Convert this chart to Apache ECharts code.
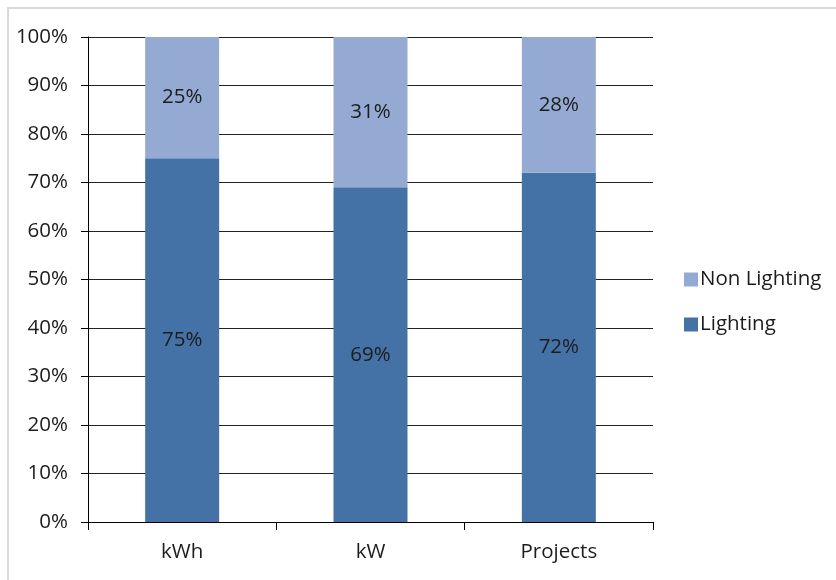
<!DOCTYPE html>
<html>
<head>
<meta charset="utf-8">
<script src="https://cdn.jsdelivr.net/npm/echarts@6/dist/echarts.min.js"></script>
<style>
  html, body { margin: 0; padding: 0; background: #fff; }
  #chart { width: 836px; height: 580px; }
</style>
</head>
<body>
<div id="chart"></div>
<script>
// Share of savings by measure type
const categories = ['kWh', 'kW', 'Projects'];
const lighting = [75, 69, 72];
const nonLighting = [25, 31, 28];
const yTicks = [0, 10, 20, 30, 40, 50, 60, 70, 80, 90, 100];

const FONT = '"Open Sans", "Liberation Sans", sans-serif';
const TEXT = '#1c1c1c';
const SIZE = 20.5;

const chart = echarts.init(document.getElementById('chart'));

chart.setOption({
  animation: false,
  backgroundColor: '#ffffff',
  textStyle: { fontFamily: FONT },
  grid: { left: 88, right: 183, top: 37, bottom: 58, containLabel: false },
  legend: {
    data: ['Non Lighting', 'Lighting'],
    orient: 'vertical',
    left: 679,
    top: 264,
    icon: 'rect',
    itemWidth: 14,
    itemHeight: 14,
    itemGap: 24,
    textStyle: { fontFamily: FONT, fontSize: SIZE, color: TEXT, lineHeight: 21, padding: [0, 0, 0, -3] }
  },
  xAxis: {
    type: 'category',
    data: categories,
    axisLine: { lineStyle: { color: '#000', width: 1 } },
    axisTick: { show: true, length: 8, alignWithLabel: false, lineStyle: { color: '#000' } },
    axisLabel: { fontFamily: FONT, fontSize: SIZE, color: TEXT, margin: 20 }
  },
  yAxis: {
    type: 'value',
    min: yTicks[0],
    max: yTicks[yTicks.length - 1],
    interval: yTicks[1] - yTicks[0],
    axisLine: { show: true, lineStyle: { color: '#000', width: 1 } },
    axisTick: { show: true, length: 7, lineStyle: { color: '#000' } },
    axisLabel: { fontFamily: FONT, fontSize: SIZE, color: TEXT, margin: 20, formatter: '{value}%' },
    splitLine: { show: true, lineStyle: { color: '#222222', width: 1 } }
  },
  series: [
    {
      name: 'Lighting',
      type: 'bar',
      stack: 'share',
      data: lighting,
      barWidth: 74,
      itemStyle: { color: '#4471A6' },
      label: { show: true, position: 'inside', formatter: '{c}%', fontFamily: FONT, fontSize: SIZE, color: TEXT }
    },
    {
      name: 'Non Lighting',
      type: 'bar',
      stack: 'share',
      data: nonLighting,
      barWidth: 74,
      itemStyle: { color: '#94AAD2' },
      label: { show: true, position: 'inside', formatter: '{c}%', fontFamily: FONT, fontSize: SIZE, color: TEXT }
    }
  ],
  graphic: [
    { type: 'line', silent: true, shape: { x1: 7, y1: 8, x2: 836, y2: 8 }, style: { stroke: '#d9d9d9', lineWidth: 2 } },
    { type: 'line', silent: true, shape: { x1: 8, y1: 7, x2: 8, y2: 580 }, style: { stroke: '#d9d9d9', lineWidth: 2 } }
  ]
});
</script>
</body>
</html>
